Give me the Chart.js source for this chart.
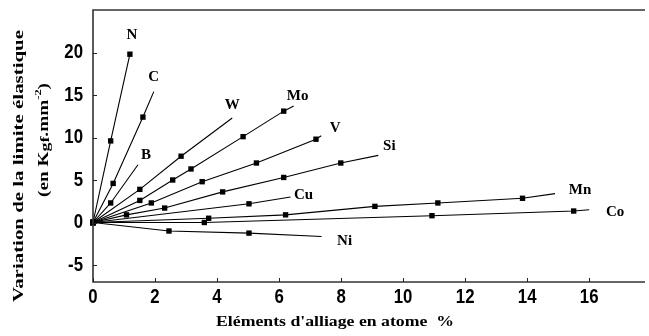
<!DOCTYPE html>
<html>
<head>
<meta charset="utf-8">
<script src="https://cdn.jsdelivr.net/npm/chart.js@4.4.1/dist/chart.umd.min.js"></script>
<style>
  html, body { margin: 0; padding: 0; background: #fff; }
  #wrap { width: 649px; height: 336px; }
</style>
</head>
<body>
<div id="wrap"><canvas id="chart"></canvas></div>
<script>
// Alloying element content (atom %) vs change of yield strength (kgf/mm2)
// Each element: measured points (x, y) and the point where its line stops
const nX  = [0, 0.57, 1.19];                     const nY  = [0, 9.6, 19.8];              const nEnd  = [1.19, 19.8];
const cX  = [0, 0.65, 1.61];                     const cY  = [0, 4.6, 12.4];              const cEnd  = [1.96, 15.4];
const bX  = [0, 0.57];                           const bY  = [0, 2.3];                    const bEnd  = [1.45, 6.8];
const wX  = [0, 1.51, 2.84];                     const wY  = [0, 3.9, 7.8];               const wEnd  = [4.49, 12.3];
const moX = [0, 1.51, 2.57, 3.16, 4.84, 6.15];   const moY = [0, 2.6, 5.0, 6.3, 10.1, 13.1]; const moEnd = [6.47, 13.7];
const vX  = [0, 1.88, 3.52, 5.27, 7.19];         const vY  = [0, 2.3, 4.8, 7.0, 9.8];     const vEnd  = [7.36, 10.2];
const siX = [0, 1.08, 2.31, 4.18, 6.15, 7.99];   const siY = [0, 0.9, 1.7, 3.6, 5.3, 7.0]; const siEnd = [9.2, 7.9];
const cuX = [0, 5.03];                           const cuY = [0, 2.2];                    const cuEnd = [6.37, 3.0];
const mnX = [0, 3.73, 6.21, 9.09, 11.12, 13.85]; const mnY = [0, 0.5, 0.9, 1.9, 2.3, 2.85]; const mnEnd = [14.9, 3.4];
const coX = [0, 3.59, 10.93, 15.5];              const coY = [0, 0.0, 0.8, 1.35];         const coEnd = [16.0, 1.5];
const niX = [0, 2.45, 5.03];                     const niY = [0, -1.0, -1.25];            const niEnd = [7.37, -1.65];

const xTicks = [0, 2, 4, 6, 8, 10, 12, 14, 16];
const yTicks = [-5, 0, 5, 10, 15, 20];

const series = [
  { name: 'N',  xs: nX,  ys: nY,  end: nEnd },
  { name: 'C',  xs: cX,  ys: cY,  end: cEnd },
  { name: 'B',  xs: bX,  ys: bY,  end: bEnd },
  { name: 'W',  xs: wX,  ys: wY,  end: wEnd },
  { name: 'Mo', xs: moX, ys: moY, end: moEnd },
  { name: 'V',  xs: vX,  ys: vY,  end: vEnd },
  { name: 'Si', xs: siX, ys: siY, end: siEnd },
  { name: 'Cu', xs: cuX, ys: cuY, end: cuEnd },
  { name: 'Mn', xs: mnX, ys: mnY, end: mnEnd },
  { name: 'Co', xs: coX, ys: coY, end: coEnd },
  { name: 'Ni', xs: niX, ys: niY, end: niEnd }
];

// pixel offset of each element name from the end of its line
const labelOffset = {
  N: [2, -19], C: [0, -14], B: [8, -10], W: [0, -13], Mo: [4, -10], V: [14, -8],
  Si: [11, -9], Cu: [13, -2], Mn: [25, -3], Co: [26, 2], Ni: [23, 5]
};

const serif = "'Liberation Serif', 'Times New Roman', serif";
const sans = "'Liberation Sans', Arial, sans-serif";

// draw a run of text pieces squeezed/stretched to a given width, centred on (cx, cy)
function drawFitted(ctx, pieces, cx, cy, width) {
  let natural = 0;
  pieces.forEach(p => { ctx.font = p.font; p.w = ctx.measureText(p.text).width; natural += p.w; });
  const k = width / natural;
  ctx.save();
  ctx.translate(cx, cy);
  ctx.scale(k, 1);
  let x = -natural / 2;
  ctx.textBaseline = 'middle';
  ctx.textAlign = 'left';
  pieces.forEach(p => {
    ctx.font = p.font;
    ctx.fillText(p.text, x, p.dy || 0);
    x += p.w;
  });
  ctx.restore();
}

// condensed bold numerals for the tick labels
function drawNumber(ctx, text, x, y, align) {
  ctx.save();
  ctx.font = 'bold 20px ' + sans;
  ctx.textBaseline = 'middle';
  ctx.textAlign = align;
  ctx.translate(x, y);
  ctx.scale(0.84, 1);
  ctx.fillText(text, 0, 0);
  ctx.restore();
}

const decorations = {
  id: 'decorations',
  afterDraw(chart) {
    const { ctx, chartArea: a, scales: { x, y } } = chart;
    ctx.save();

    // frame: left axis, bottom axis and top rule
    ctx.strokeStyle = '#333';
    ctx.lineWidth = 1.6;
    ctx.beginPath();
    ctx.moveTo(a.right, a.top);
    ctx.lineTo(a.left, a.top);
    ctx.lineTo(a.left, a.bottom);
    ctx.lineTo(a.right, a.bottom);
    ctx.stroke();

    // inward tick marks
    ctx.lineWidth = 1;
    ctx.strokeStyle = '#222';
    ctx.beginPath();
    xTicks.forEach(v => {
      const px = Math.round(x.getPixelForValue(v)) + 0.5;
      ctx.moveTo(px, a.bottom);
      ctx.lineTo(px, a.bottom - 4);
    });
    yTicks.forEach(v => {
      const py = Math.round(y.getPixelForValue(v)) + 0.5;
      ctx.moveTo(a.left, py);
      ctx.lineTo(a.left + 4, py);
    });
    ctx.stroke();

    // tick labels
    ctx.fillStyle = '#000';
    xTicks.forEach(v => drawNumber(ctx, String(v), x.getPixelForValue(v), a.bottom + 15, 'center'));
    yTicks.forEach(v => drawNumber(ctx, v < 0 ? '-' + Math.abs(v) : String(v), a.left - 10, y.getPixelForValue(v), 'right'));

    // element names at the end of each line
    ctx.font = 'bold 15px ' + serif;
    ctx.textAlign = 'center';
    ctx.textBaseline = 'middle';
    series.forEach(s => {
      const off = labelOffset[s.name];
      ctx.fillText(s.name, x.getPixelForValue(s.end[0]) + off[0], y.getPixelForValue(s.end[1]) + off[1]);
    });

    // x axis title
    drawFitted(ctx, [{ text: "Eléments d'alliage en atome  %", font: 'bold 14px ' + serif }], 335, 322, 238);

    // y axis title, two lines
    ctx.save();
    ctx.translate(19, 166);
    ctx.rotate(-Math.PI / 2);
    drawFitted(ctx, [{ text: 'Variation de la limite élastique', font: 'bold 14px ' + serif }], 0, 0, 272);
    ctx.restore();

    ctx.save();
    ctx.translate(44, 140);
    ctx.rotate(-Math.PI / 2);
    drawFitted(ctx, [
      { text: '(en K', font: 'bold 14px ' + serif },
      { text: 'gf', font: 'bold 13px ' + serif, dy: 2 },
      { text: '.mm', font: 'bold 14px ' + serif },
      { text: '-2', font: 'bold 9px ' + serif, dy: -5 },
      { text: ')', font: 'bold 14px ' + serif }
    ], 0, 0, 114);
    ctx.restore();

    ctx.restore();
  }
};

new Chart(document.getElementById('chart'), {
  type: 'scatter',
  data: {
    datasets: series.map(s => ({
      label: s.name,
      data: s.xs.map((v, i) => ({ x: v, y: s.ys[i] })).concat([{ x: s.end[0], y: s.end[1] }]),
      showLine: true,
      borderColor: '#000',
      borderWidth: 1.1,
      pointStyle: 'rect',
      pointBackgroundColor: '#000',
      pointBorderColor: '#000',
      pointBorderWidth: 0,
      pointRadius: ctx => ctx.dataIndex === ctx.dataset.data.length - 1 ? 0 : 3.8,
      tension: 0,
      clip: false
    }))
  },
  options: {
    responsive: true,
    maintainAspectRatio: false,
    devicePixelRatio: 1,
    animation: false,
    events: [],
    layout: { padding: { top: 10, left: 0, right: 0, bottom: 0 } },
    plugins: {
      legend: { display: false },
      tooltip: { enabled: false }
    },
    scales: {
      x: {
        type: 'linear',
        min: 0,
        max: 17.8,
        afterFit: scale => { scale.height = 54; },
        grid: { display: false, drawTicks: false },
        border: { display: false },
        ticks: { display: false }
      },
      y: {
        type: 'linear',
        min: -7,
        max: 25,
        afterFit: scale => { scale.width = 93; },
        grid: { display: false, drawTicks: false },
        border: { display: false },
        ticks: { display: false }
      }
    }
  },
  plugins: [decorations]
});
</script>
</body>
</html>
